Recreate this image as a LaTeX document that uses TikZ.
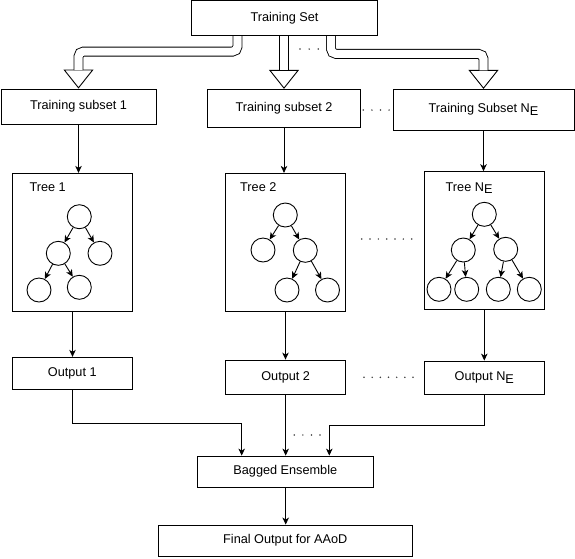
\documentclass[tikz,border=0pt]{standalone}
\usepackage{fontspec}
\setmainfont{Liberation Sans}
\usetikzlibrary{arrows.meta}
\newcommand{\NE}{N\raisebox{-2.5pt}{E}}
\begin{document}
\begin{tikzpicture}[line join=miter,x=1pt,y=-1pt,font=\fontsize{12.7}{15}\selectfont,
  box/.style 2 args={draw,line width=0.9pt,inner sep=0pt,minimum width=#1,minimum height=#2},
  leaf/.style={circle,draw,line width=0.9pt,minimum size=24pt,inner sep=0pt},
  link/.style={line width=0.9pt,-{Stealth[length=7pt,width=6.5pt,inset=2pt]}},
  shaft/.style={line width=0.9pt,double=white,double distance=8.1pt,rounded corners=5pt},
  shafthead/.style={line width=0.9pt,-{Triangle[fill=white,length=19pt,width=30pt]}},
  dotrow/.style={line width=1.7pt,line cap=round,dash pattern=on 0pt off #1,black!75}]
\useasboundingbox (0,0) rectangle (575,558);
% boxes
\node[box={186pt}{34.5pt}] (set) at (284.5,17.8) {Training Set};
\node[box={155pt}{35pt}] (sub1) at (78.5,106.5) {Training subset 1};
\node[box={153.4pt}{38pt}] (sub2) at (284,108.3) {Training subset 2};
\node[box={181pt}{40.7pt}] (subN) at (483.5,109.7) {Training Subset \NE};
\node[box={119.6pt}{137.7pt}] (tree1) at (72.5,242.2) {};
\node[box={119.6pt}{137.7pt}] (tree2) at (285.5,242.2) {};
\node[box={120pt}{137.3pt}] (treeN) at (484.3,240.3) {};
\node[box={120pt}{32pt}] (out1) at (72.3,373.3) {Output 1};
\node[box={120pt}{34.3pt}] (out2) at (285.7,377.2) {Output 2};
\node[box={120pt}{33.3pt}] (outN) at (484.3,377.7) {Output \NE};
\node[box={176pt}{31.3pt}] (bag) at (285.3,471.7) {Bagged Ensemble};
\node[box={254pt}{31pt}] (fin) at (285.3,540.5) {Final Output for AAoD};
% tree labels
\node[anchor=base west,inner sep=0pt] (lab1) at (29.3,191.2) {Tree 1};
\node[anchor=base west,inner sep=0pt] (lab2) at (240,191.2) {Tree 2};
\node[anchor=base west,inner sep=0pt] (labN) at (445.5,191.2) {Tree \NE};
% tree 1
\node[leaf] (t1r) at (79.3,216.7) {};
\node[leaf] (t1a) at (58.3,253.3) {};
\node[leaf] (t1b) at (100,253.3) {};
\node[leaf] (t1c) at (39,290) {};
\node[leaf] (t1d) at (79.3,287.3) {};
\draw[link] (t1r) -- (t1a);
\draw[link] (t1r) -- (t1b);
\draw[link] (t1a) -- (t1c);
\draw[link] (t1a) -- (t1d);
% tree 2
\node[leaf] (t2r) at (285.3,215) {};
\node[leaf] (t2a) at (263,250) {};
\node[leaf] (t2b) at (305.3,250.3) {};
\node[leaf] (t2c) at (287,290) {};
\node[leaf] (t2d) at (327.5,290) {};
\draw[link] (t2r) -- (t2a);
\draw[link] (t2r) -- (t2b);
\draw[link] (t2b) -- (t2c);
\draw[link] (t2b) -- (t2d);
% tree N
\node[leaf] (tNr) at (484.3,214.3) {};
\node[leaf] (tNa) at (463.3,250) {};
\node[leaf] (tNb) at (505.7,249.3) {};
\node[leaf] (tNc) at (439,289.3) {};
\node[leaf] (tNd) at (466.7,289.3) {};
\node[leaf] (tNe) at (498.3,289.3) {};
\node[leaf] (tNf) at (529.3,289.3) {};
\draw[link] (tNr) -- (tNa);
\draw[link] (tNr) -- (tNb);
\draw[link] (tNa) -- (tNc);
\draw[link] (tNa) -- (tNd);
\draw[link] (tNb) -- (tNe);
\draw[link] (tNb) -- (tNf);
% hollow arrows from the training set
\draw[shafthead] ([yshift=19pt]sub1.north) -- (sub1.north);
\draw[shafthead] ([yshift=19pt]sub2.north) -- (sub2.north);
\draw[shafthead] ([yshift=19pt]subN.north) -- (subN.north);
\draw[shaft] ([xshift=-47pt,yshift=-0.5pt]set.south) |- ([yshift=37pt]sub1.north) -- ([yshift=18.5pt]sub1.north);
\draw[shaft] ([xshift=-0.5pt,yshift=-0.5pt]set.south) -- ([yshift=18.5pt]sub2.north);
\draw[shaft] ([xshift=46.5pt,yshift=-0.5pt]set.south) |- ([yshift=35pt]subN.north) -- ([yshift=18.5pt]subN.north);
% thin connectors
\draw[link] (sub1.south) -- (sub1.south |- tree1.north);
\draw[link] (sub2.south) -- (sub2.south |- tree2.north);
\draw[link] (subN.south) -- (subN.south |- treeN.north);
\draw[link] (tree1.south) -- (tree1.south |- out1.north);
\draw[link] (tree2.south) -- (tree2.south |- out2.north);
\draw[link] (treeN.south) -- (treeN.south |- outN.north);
\draw[link] (out1.south) -- ++(0,33.4) -| ([xshift=-43.6pt]bag.north);
\draw[link] (out2.south) -- (out2.south |- bag.north);
\draw[link] (outN.south) -- ++(0,30.7) -| ([xshift=44pt]bag.north);
\draw[link] (bag.south -| out2.south) -- (fin.north -| out2.south);
% dots
\draw[dotrow=9.15pt] (300,49) -- (318.8,49);
\draw[dotrow=8.6pt] (363.3,110) -- (389.5,110);
\draw[dotrow=8.33pt] (361.7,239) -- (412.2,239);
\draw[dotrow=8.17pt] (364,377.3) -- (413.5,377.3);
\draw[dotrow=8.57pt] (294.3,435) -- (320.5,435);
\end{tikzpicture}
\end{document}
